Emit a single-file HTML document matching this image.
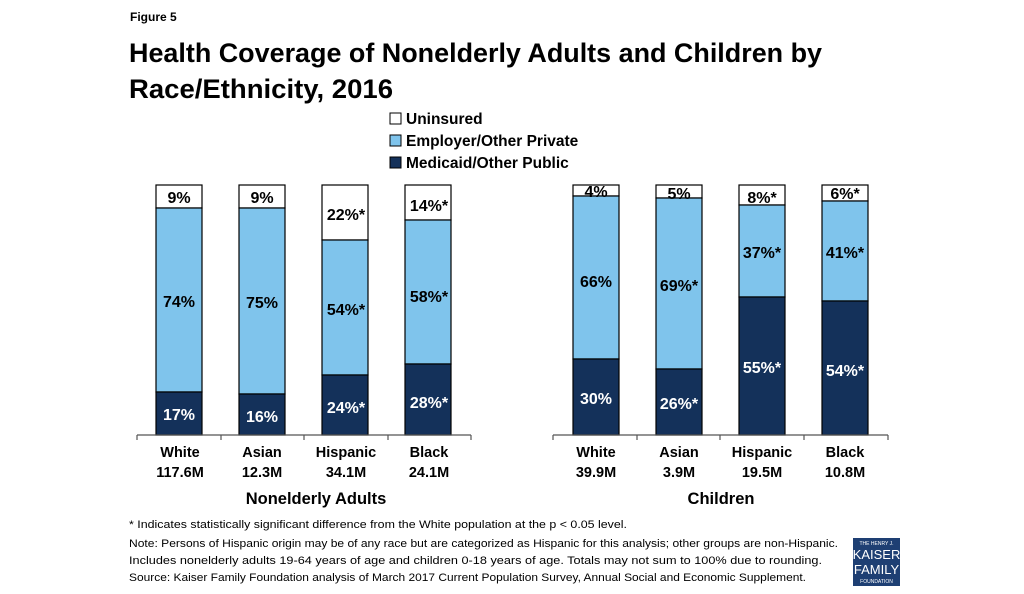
<!DOCTYPE html>
<html><head><style>body{margin:0;background:#fff}svg{display:block}text{font-family:"Liberation Sans",sans-serif}</style></head><body>
<svg width="1024" height="594" viewBox="0 0 1024 594" xmlns="http://www.w3.org/2000/svg">
<text x="130" y="21" font-size="12" font-weight="bold">Figure 5</text>
<text x="129" y="62" font-size="27" font-weight="bold" textLength="693" lengthAdjust="spacingAndGlyphs">Health Coverage of Nonelderly Adults and Children by</text>
<text x="129" y="98" font-size="27" font-weight="bold" textLength="264" lengthAdjust="spacingAndGlyphs">Race/Ethnicity, 2016</text>
<g font-size="15.5" font-weight="bold">
<rect x="390" y="113" width="11" height="11" fill="#fff" stroke="#000"/><text x="406" y="124">Uninsured</text>
<rect x="390" y="135" width="11" height="11" fill="#7fc4ec" stroke="#000"/><text x="406" y="146">Employer/Other Private</text>
<rect x="390" y="157" width="11" height="11" fill="#14315a" stroke="#000"/><text x="406" y="168">Medicaid/Other Public</text>
</g>
<g stroke="#000" stroke-width="1.2">
<rect x="156" y="185" width="46" height="23" fill="#fff"/><rect x="156" y="208" width="46" height="184" fill="#7fc4ec"/><rect x="156" y="392" width="46" height="43" fill="#14315a"/>
<rect x="239" y="185" width="46" height="23" fill="#fff"/><rect x="239" y="208" width="46" height="186" fill="#7fc4ec"/><rect x="239" y="394" width="46" height="41" fill="#14315a"/>
<rect x="322" y="185" width="46" height="55" fill="#fff"/><rect x="322" y="240" width="46" height="135" fill="#7fc4ec"/><rect x="322" y="375" width="46" height="60" fill="#14315a"/>
<rect x="405" y="185" width="46" height="35" fill="#fff"/><rect x="405" y="220" width="46" height="144" fill="#7fc4ec"/><rect x="405" y="364" width="46" height="71" fill="#14315a"/>
<rect x="573" y="185" width="46" height="11" fill="#fff"/><rect x="573" y="196" width="46" height="163" fill="#7fc4ec"/><rect x="573" y="359" width="46" height="76" fill="#14315a"/>
<rect x="656" y="185" width="46" height="13" fill="#fff"/><rect x="656" y="198" width="46" height="171" fill="#7fc4ec"/><rect x="656" y="369" width="46" height="66" fill="#14315a"/>
<rect x="739" y="185" width="46" height="20" fill="#fff"/><rect x="739" y="205" width="46" height="92" fill="#7fc4ec"/><rect x="739" y="297" width="46" height="138" fill="#14315a"/>
<rect x="822" y="185" width="46" height="16" fill="#fff"/><rect x="822" y="201" width="46" height="100" fill="#7fc4ec"/><rect x="822" y="301" width="46" height="134" fill="#14315a"/>
</g>
<g stroke="#555" stroke-width="1.2">
<line x1="137" y1="435" x2="471" y2="435"/>
<line x1="137" y1="435" x2="137" y2="440"/><line x1="221" y1="435" x2="221" y2="440"/><line x1="304" y1="435" x2="304" y2="440"/><line x1="388" y1="435" x2="388" y2="440"/><line x1="471" y1="435" x2="471" y2="440"/>
<line x1="553" y1="435" x2="888" y2="435"/>
<line x1="553" y1="435" x2="553" y2="440"/><line x1="637" y1="435" x2="637" y2="440"/><line x1="720" y1="435" x2="720" y2="440"/><line x1="804" y1="435" x2="804" y2="440"/><line x1="888" y1="435" x2="888" y2="440"/>
</g>
<g font-size="16" font-weight="bold" text-anchor="middle">
<text x="179" y="203">9%</text><text x="179" y="307">74%</text><text x="179" y="420" fill="#fff">17%</text>
<text x="262" y="203">9%</text><text x="262" y="308">75%</text><text x="262" y="422" fill="#fff">16%</text>
<text x="346" y="220">22%*</text><text x="346" y="315">54%*</text><text x="346" y="413" fill="#fff">24%*</text>
<text x="429" y="211">14%*</text><text x="429" y="302">58%*</text><text x="429" y="408" fill="#fff">28%*</text>
<text x="596" y="197">4%</text><text x="596" y="287">66%</text><text x="596" y="404" fill="#fff">30%</text>
<text x="679" y="199">5%</text><text x="679" y="291">69%*</text><text x="679" y="409" fill="#fff">26%*</text>
<text x="762" y="203">8%*</text><text x="762" y="258">37%*</text><text x="762" y="373" fill="#fff">55%*</text>
<text x="845" y="199">6%*</text><text x="845" y="258">41%*</text><text x="845" y="376" fill="#fff">54%*</text>
</g>
<g font-size="14.5" font-weight="bold" text-anchor="middle">
<text x="180" y="457">White</text><text x="180" y="477">117.6M</text>
<text x="262" y="457">Asian</text><text x="262" y="477">12.3M</text>
<text x="346" y="457">Hispanic</text><text x="346" y="477">34.1M</text>
<text x="429" y="457">Black</text><text x="429" y="477">24.1M</text>
<text x="596" y="457">White</text><text x="596" y="477">39.9M</text>
<text x="679" y="457">Asian</text><text x="679" y="477">3.9M</text>
<text x="762" y="457">Hispanic</text><text x="762" y="477">19.5M</text>
<text x="845" y="457">Black</text><text x="845" y="477">10.8M</text>
<text x="316" y="504" font-size="16.5">Nonelderly Adults</text>
<text x="721" y="504" font-size="16.5">Children</text>
</g>
<g font-size="11">
<text x="129" y="528" textLength="498" lengthAdjust="spacingAndGlyphs">* Indicates statistically significant difference from the White population at the p &lt; 0.05 level.</text>
<text x="129" y="547" textLength="709" lengthAdjust="spacingAndGlyphs">Note: Persons of Hispanic origin may be of any race but are categorized as Hispanic for this analysis; other groups are non-Hispanic.</text>
<text x="129" y="564" textLength="693" lengthAdjust="spacingAndGlyphs">Includes nonelderly  adults 19-64 years of age and children 0-18 years of age. Totals may not sum to 100% due to rounding.</text>
<text x="129" y="581" textLength="677" lengthAdjust="spacingAndGlyphs">Source: Kaiser Family Foundation analysis of March 2017 Current Population Survey, Annual Social and Economic Supplement.</text>
</g>
<rect x="853" y="538" width="47" height="48" fill="#1e3f73"/>
<g fill="#fff" text-anchor="middle" style="font-family:'Liberation Serif',serif">
<text x="876.5" y="545" font-size="5">THE HENRY J.</text>
<text x="876.5" y="559" font-size="13">KAISER</text>
<text x="876.5" y="574" font-size="13">FAMILY</text>
<text x="876.5" y="583" font-size="5">FOUNDATION</text>
</g>
</svg>
</body></html>
